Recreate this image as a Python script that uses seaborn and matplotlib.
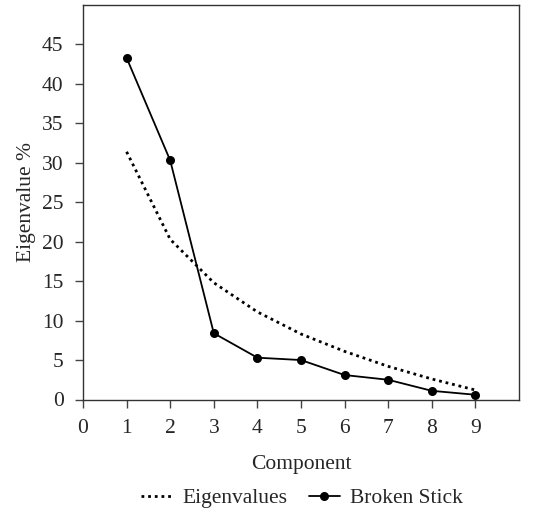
import matplotlib
matplotlib.use("Agg")
import matplotlib.pyplot as plt
import seaborn as sns
import pandas as pd

components = [1, 2, 3, 4, 5, 6, 7, 8, 9]
eigenvalues = [31.4, 20.3, 14.8, 11.1, 8.3, 6.1, 4.2, 2.6, 1.2]
broken_stick = [43.3, 30.3, 8.4, 5.3, 5.0, 3.1, 2.5, 1.1, 0.6]
xticks = list(range(0, 10))
yticks = list(range(0, 50, 5))

sns.set_theme(style="ticks")
plt.rcParams['font.family'] = ['Liberation Serif', 'DejaVu Serif']

fig = plt.figure(figsize=(5.41, 5.12), dpi=100)
ax = fig.add_axes([83/541, 1 - 399.5/512, (519-83)/541, (399.5-5)/512])

df = pd.DataFrame({"Component": components, "Eigenvalues": eigenvalues, "Broken Stick": broken_stick})
sns.lineplot(data=df, x="Component", y="Eigenvalues", ax=ax, color="black",
             linestyle=(0, (1, 1.4)), linewidth=2.0, label="Eigenvalues")
sns.lineplot(data=df, x="Component", y="Broken Stick", ax=ax, color="black",
             linewidth=1.3, marker="o", markersize=6.5, markeredgewidth=0, label="Broken Stick")

ax.set_xlim(0, 10)
ax.set_ylim(0, 50)
ax.set_xticks(xticks)
ax.set_yticks(yticks)
ax.tick_params(axis="both", labelsize=15.5, length=6, width=1, color="#444444", direction="out")
ax.tick_params(axis="x", pad=8)
ax.tick_params(axis="y", pad=8)
for s in ax.spines.values():
    s.set_visible(True)
    s.set_color("#333333")
    s.set_linewidth(1)
ax.set_xlabel("Component", fontsize=15.5, labelpad=12)
ax.set_ylabel("Eigenvalue %", fontsize=15.5, labelpad=4)

handles, labels = ax.get_legend_handles_labels()
ax.get_legend().remove()
fig.legend(handles, labels, loc="center", bbox_to_anchor=(302/541, 1 - 498/512), ncol=2,
           frameon=False, fontsize=15.5, handlelength=1.45, columnspacing=1.0,
           handletextpad=0.45, borderaxespad=0, borderpad=0)

fig.savefig("out.png", dpi=100)
